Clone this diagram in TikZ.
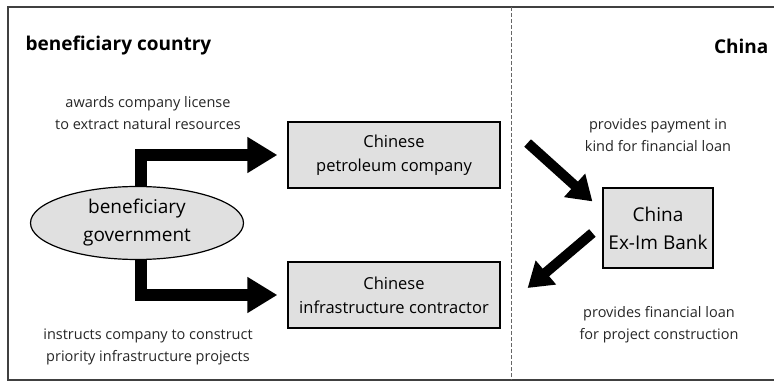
\documentclass[tikz,border=0pt]{standalone}
\usepackage{fontspec}
\setmainfont{Open Sans}
\usetikzlibrary{arrows.meta,shapes.geometric,positioning}

\tikzset{
  firm/.style={draw, line width=1.2pt, fill=black!12, minimum width=212pt, minimum height=66pt, align=center, font=\fontsize{16.5}{24}\selectfont},
  govt/.style={ellipse, draw, line width=1.2pt, fill=black!12, minimum width=213pt, minimum height=73pt, inner sep=0pt, align=center, font=\fontsize{19}{28}\selectfont},
  bankbox/.style={draw, line width=1.2pt, fill=black!12, minimum width=110pt, minimum height=80pt, inner sep=0pt, align=center, font=\fontsize{19}{28}\selectfont},
  remark/.style={align=center, text=black!85, font=\fontsize{14.5}{22}\selectfont},
  heading/.style={font=\bfseries\fontsize{19}{22}\selectfont},
  bigarrow/.style={line width=12pt, -{Triangle[length=30pt,width=34pt]}, line join=miter},
  slantarrow/.style={line width=10pt, -{Triangle[length=24pt,width=30pt]}}
}

\begin{document}
\begin{tikzpicture}[x=1pt,y=1pt]

	% frame and divider

	\useasboundingbox (0,0) rectangle (774,-382);
	\draw[line width=1.5pt, black!75] (774,-7) -- (8,-7) -- (8,-380) -- (774,-380);
	\draw[black!60, dash pattern=on 4pt off 2pt] (511,-7) -- (511,-380);

	\node[heading, anchor=west] (country) at (22,-46) {beneficiary country};
	\node[heading, anchor=east] (china) at (772,-46) {China};

	% actors

	\node[govt] (gov) at (137,-223) {beneficiary\\government};
	\node[firm] (pet) at (394,-155) {Chinese\\petroleum company};
	\node[firm] (infra) at (394,-295) {Chinese\\infrastructure contractor};
	\node[bankbox] (bank) at (658,-228) {China\\Ex-Im Bank};

	% flows

	\draw[bigarrow] ([xshift=4pt]gov.north) |- ([xshift=-10pt]pet.west);
	\draw[bigarrow] ([xshift=4pt]gov.south) |- ([xshift=-10pt]infra.west);
	\draw[slantarrow] ([xshift=27pt,yshift=12pt]pet.east) -- ([xshift=-10pt,yshift=-14pt]bank.north west);
	\draw[slantarrow] ([xshift=-10pt,yshift=-5pt]bank.west) -- ([xshift=27pt,yshift=7pt]infra.east);

	\node[remark] (awards) at (148,-113) {awards company license\\to extract natural resources};
	\node[remark] (instructs) at (148,-347) {instructs company to construct\\priority infrastructure projects};
	\node[remark] (payment) at (658,-135) {provides payment in\\kind for financial loan};
	\node[remark] (loan) at (659,-325) {provides financial loan\\for project construction};

\end{tikzpicture}
\end{document}
